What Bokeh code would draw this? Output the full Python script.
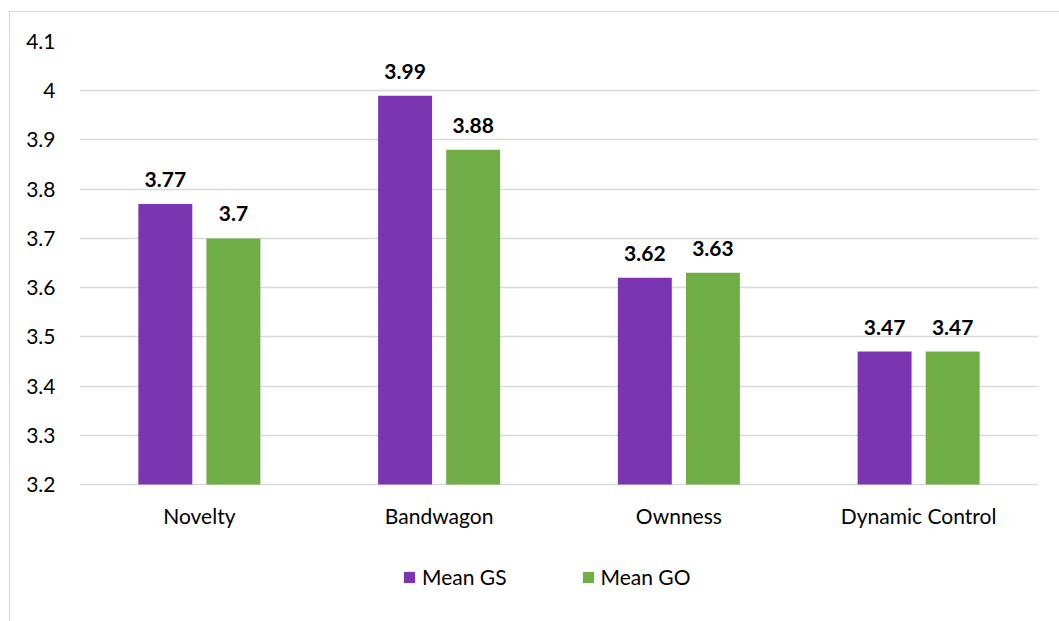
from bokeh.plotting import figure
from bokeh.models import (ColumnDataSource, FactorRange, Range1d, FixedTicker,
                          NumeralTickFormatter, LabelSet, Legend, LegendItem,
                          InlineStyleSheet)
from bokeh.core.properties import value
from bokeh.transform import dodge
from bokeh.embed import file_html
from bokeh.resources import INLINE

categories = ["Novelty", "Bandwagon", "Ownness", "Dynamic Control"]
mean_gs = [3.77, 3.99, 3.62, 3.47]
mean_go = [3.70, 3.88, 3.63, 3.47]
y_ticks = [3.2, 3.3, 3.4, 3.5, 3.6, 3.7, 3.8, 3.9, 4.0, 4.1]
series_names = ["Mean GS", "Mean GO"]

PURPLE = "#7B35B0"
GREEN = "#70AD47"
FONT = "Lato"
FS = "21px"

Y_MIN, Y_MAX = y_ticks[0], y_ticks[-1]
PLOT_H, TOP, BOTTOM_SPACE = 621, 41, 137
px_per_unit = (PLOT_H - TOP - BOTTOM_SPACE) / (Y_MAX - Y_MIN)
y_start = Y_MIN - BOTTOM_SPACE / px_per_unit   # frame extends down to hold category labels & legend

src = ColumnDataSource(dict(
    cat=categories,
    gs=mean_gs,
    go=mean_go,
    base=[Y_MIN] * len(categories),
    gs_lbl=[f"{v:g}" for v in mean_gs],
    go_lbl=[f"{v:g}" for v in mean_go],
))

border_css = InlineStyleSheet(css="""
:host { overflow: hidden; }
:host::after {
  content: ''; position: absolute; left: 9px; top: 11px;
  width: 1100px; height: 700px; border: 1px solid #d9d9d9;
  pointer-events: none; box-sizing: border-box;
}
""")

p = figure(width=1059, height=PLOT_H, x_range=FactorRange(*categories, range_padding=0),
           y_range=Range1d(y_start, Y_MAX), output_backend="svg", toolbar_location=None,
           min_border_left=79, min_border_right=21, min_border_top=TOP, min_border_bottom=0,
           stylesheets=[border_css])
p.outline_line_color = None
p.background_fill_color = "white"
p.border_fill_color = "white"
p.xaxis.visible = False

r1 = p.vbar(x=dodge("cat", -0.142, range=p.x_range), top="gs", bottom=Y_MIN, width=0.225,
            source=src, fill_color=PURPLE, line_color=None)
r2 = p.vbar(x=dodge("cat", 0.142, range=p.x_range), top="go", bottom=Y_MIN, width=0.225,
            source=src, fill_color=GREEN, line_color=None)

for col, lbl, off in (("gs", "gs_lbl", -0.142), ("go", "go_lbl", 0.142)):
    p.add_layout(LabelSet(x=dodge("cat", off, range=p.x_range), y=col, text=lbl, source=src,
                          text_align="center", text_baseline="alphabetic", y_offset=17,
                          text_font=value(FONT), text_font_size=value(FS),
                          text_font_style="bold", text_color="black"))

# category labels under the baseline
p.add_layout(LabelSet(x="cat", y="base", text="cat", source=src,
                      text_align="center", text_baseline="alphabetic", y_offset=-39,
                      text_font=value(FONT), text_font_size=value(FS), text_color="black"))

p.yaxis.ticker = FixedTicker(ticks=y_ticks)
p.yaxis.formatter = NumeralTickFormatter(format="0.[0]")
p.yaxis.axis_line_color = None
p.yaxis.major_tick_line_color = None
p.yaxis.minor_tick_line_color = None
p.yaxis.major_label_standoff = 18
p.yaxis.major_label_text_font = FONT
p.yaxis.major_label_text_font_size = FS
p.yaxis.major_label_text_color = "black"

p.xgrid.grid_line_color = None
p.ygrid.ticker = FixedTicker(ticks=y_ticks)
p.ygrid.grid_line_color = "#d9d9d9"
p.ygrid.grid_line_width = 1.5

legend = Legend(items=[LegendItem(label=series_names[0], renderers=[r1]),
                       LegendItem(label=series_names[1], renderers=[r2])],
                location=(323, 32), orientation="horizontal",
                border_line_color=None, background_fill_alpha=0,
                glyph_width=14, glyph_height=14, label_standoff=6, spacing=74,
                padding=0, margin=0,
                label_text_font=FONT, label_text_font_size=FS, label_text_color="black")
p.add_layout(legend, "center")

open("out.html", "w").write(file_html(p, INLINE))
